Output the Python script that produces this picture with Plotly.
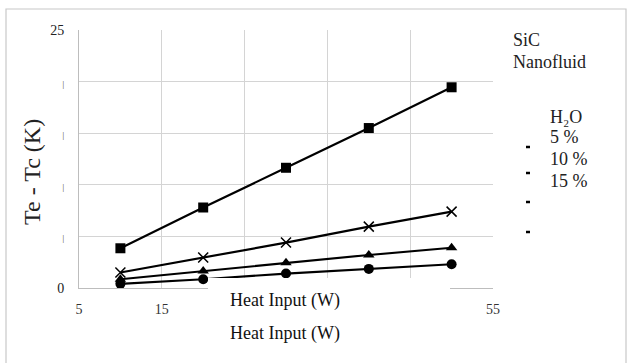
import plotly.graph_objects as go

heat_input = [10, 20, 30, 40, 50]
sq_vals = [3.85, 7.8, 11.65, 15.5, 19.45]
x_vals = [1.5, 2.95, 4.4, 5.95, 7.4]
tri_vals = [0.85, 1.65, 2.45, 3.2, 3.9]
circ_vals = [0.4, 0.85, 1.4, 1.85, 2.3]

x_ticks = [5, 15, 25, 35, 45, 55]
x_ticktext = ["5", "15", "", "", "", "55"]
y_ticks = [0, 5, 10, 15, 20, 25]
bar = "<span style='font-size:8px'>|</span>"
y_ticktext = ["0", bar, bar, bar, bar, "25"]

W, H = 628, 363
L, R, T, B = 79, 135, 30, 75
pw, ph = W - L - R, H - T - B


def px(x):
    return (x - L) / pw


def py(y):
    return (H - B - y) / ph


series = [
    (sq_vals, "square", 10, None),
    (x_vals, "x-thin-open", 10, 1.5),
    (tri_vals, "triangle-up", 10, None),
    (circ_vals, "circle", 10, None),
]

fig = go.Figure()
for vals, sym, size, lw in series:
    m = dict(symbol=sym, size=size, color="black")
    if lw:
        m["line"] = dict(color="black", width=lw)
    fig.add_trace(go.Scatter(x=heat_input, y=vals, mode="lines+markers",
                             line=dict(color="black", width=2.2), marker=m,
                             showlegend=False, cliponaxis=False))

serif = "Liberation Serif"

fig.update_layout(
    width=W, height=H,
    margin=dict(l=L, r=R, t=T, b=B),
    paper_bgcolor="white", plot_bgcolor="white",
    font=dict(family=serif, color="#222"),
    xaxis=dict(range=[5, 55], tickvals=x_ticks, ticktext=x_ticktext, showgrid=True,
               gridcolor="#d4d4d4", gridwidth=1.3, zeroline=False, showline=True,
               linecolor="#bdbdbd", linewidth=1, ticks="",
               tickfont=dict(family=serif, size=14, color="#333"), ticklabelstandoff=8),
    yaxis=dict(range=[0, 25], tickvals=y_ticks, ticktext=y_ticktext, showgrid=True,
               gridcolor="#d4d4d4", gridwidth=1.3, zeroline=False, showline=True,
               linecolor="#bdbdbd", linewidth=1, ticks="",
               tickfont=dict(family=serif, size=14, color="#222"), ticklabelstandoff=11),
)

shapes = [
    # outer frame
    dict(type="rect", xref="paper", yref="paper", x0=px(6), x1=px(626), y0=py(372), y1=py(9),
         line=dict(color="#c8c8c8", width=1.2), fillcolor="rgba(0,0,0,0)", layer="below"),
    # white box covering part of the x axis
    dict(type="rect", xref="paper", yref="paper", x0=px(208), x1=px(450), y0=py(322), y1=py(278),
         line=dict(width=0), fillcolor="white", layer="above"),
]
# legend dashes
for yy in [147, 173, 202, 232]:
    shapes.append(dict(type="line", xref="paper", yref="paper", x0=px(526), x1=px(530),
                       y0=py(yy), y1=py(yy), line=dict(color="black", width=2.5), layer="above"))
fig.update_layout(shapes=shapes)

for yy in [300, 333]:
    fig.add_annotation(text="Heat Input (W)", x=px(285), y=py(yy), xref="paper", yref="paper",
                       showarrow=False, font=dict(family=serif, size=18, color="#111"),
                       xanchor="center", yanchor="middle")

fig.add_annotation(text="Te - Tc (K)", x=px(32), y=py(172), xref="paper", yref="paper",
                   showarrow=False, textangle=-90, font=dict(family=serif, size=24, color="#222"),
                   xanchor="center", yanchor="middle")

legend_items = [
    ("SiC", 511, 40), ("Nanofluid", 511, 62),
    ("H₂O", 548, 117), ("5 %", 548, 137), ("10 %", 548, 159), ("15 %", 548, 181),
]
for txt, x0, y0 in legend_items:
    fig.add_annotation(text=txt, x=px(x0), y=py(y0), xref="paper", yref="paper",
                       showarrow=False, font=dict(family=serif, size=18, color="#222"),
                       xanchor="left", yanchor="middle")

fig.write_html("out.html", config={"displayModeBar": False},
               post_script="document.body.style.margin='0';")
